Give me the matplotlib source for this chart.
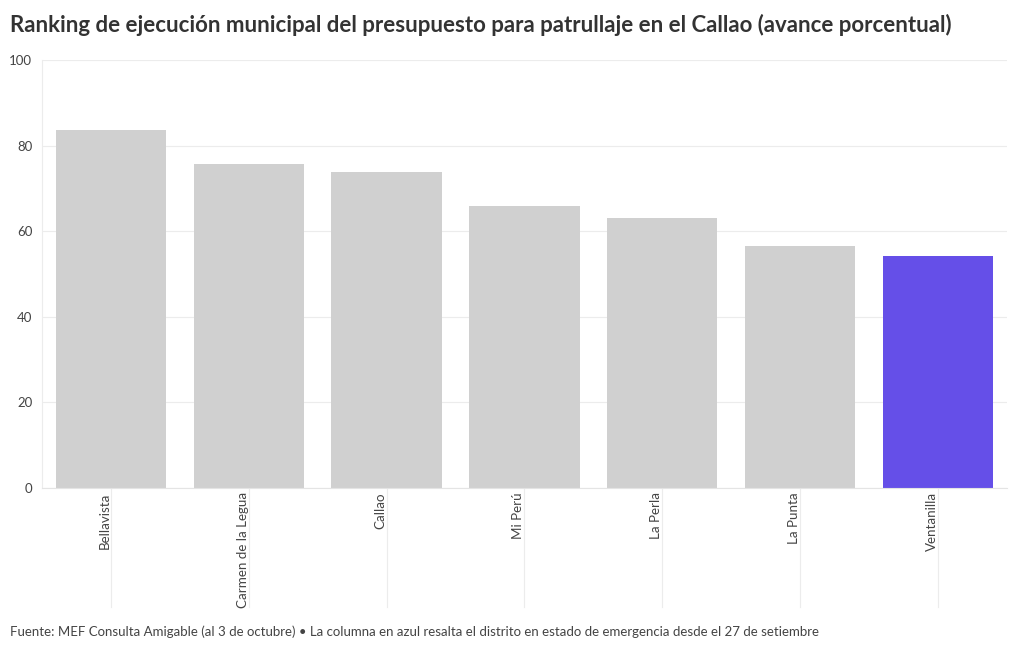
import matplotlib
matplotlib.use("Agg")
import matplotlib.pyplot as plt

plt.rcParams['font.family'] = ['Lato', 'DejaVu Sans']

distritos = ['Bellavista', 'Carmen de la Legua', 'Callao', 'Mi Perú',
             'La Perla', 'La Punta', 'Ventanilla']
avance = [83.6, 75.7, 73.8, 65.9, 63.1, 56.5, 54.2]
resaltado = 'Ventanilla'

gris = '#d0d0d0'
azul = '#654fe8'
colores = [azul if d == resaltado else gris for d in distritos]

fig = plt.figure(figsize=(10.2, 6.5), dpi=100)
# axes box in pixels: left 42, right 1007, top 60, bottom 488
ax = fig.add_axes([42 / 1020, 1 - 488 / 650, 965 / 1020, 428 / 650])

x = list(range(len(distritos)))
ax.bar(x, avance, width=0.8, color=colores, zorder=2)

ax.set_xlim(-0.5, len(distritos) - 0.5)
ax.set_ylim(0, 100)
ax.set_yticks([0, 20, 40, 60, 80, 100])
ax.grid(axis='y', color='#ececec', linewidth=0.8, zorder=0)
ax.tick_params(axis='y', length=0, pad=7, labelsize=9.5, labelcolor='#444444')

for s in ['top', 'right']:
    ax.spines[s].set_visible(False)
ax.spines['left'].set_color('#ececec')
ax.spines['bottom'].set_color('#e4e4e4')
ax.spines['left'].set_linewidth(0.8)
ax.spines['bottom'].set_linewidth(0.8)

ax.set_xticks(x)
ax.set_xticklabels(distritos, rotation=90, ha='right', va='top',
                   fontsize=9.6, color='#444444')
ax.tick_params(axis='x', length=0, pad=3)

# vertical guide lines under each category
for xi in x:
    ax.plot([xi, xi], [0, -119 / 428], color='#ececec', linewidth=0.8,
            transform=ax.get_xaxis_transform(), clip_on=False, zorder=0)

fig.text(10 / 1020, 1 - 25 / 650,
         'Ranking de ejecución municipal del presupuesto para patrullaje en el Callao (avance porcentual)',
         fontsize=16, fontweight='bold', color='#333333', va='center', ha='left')

fig.text(10 / 1020, 1 - 632 / 650,
         'Fuente: MEF Consulta Amigable (al 3 de octubre) • La columna en azul resalta el distrito en estado de emergencia desde el 27 de setiembre',
         fontsize=9.5, color='#444444', va='center', ha='left')

fig.savefig('out.png', dpi=100)
